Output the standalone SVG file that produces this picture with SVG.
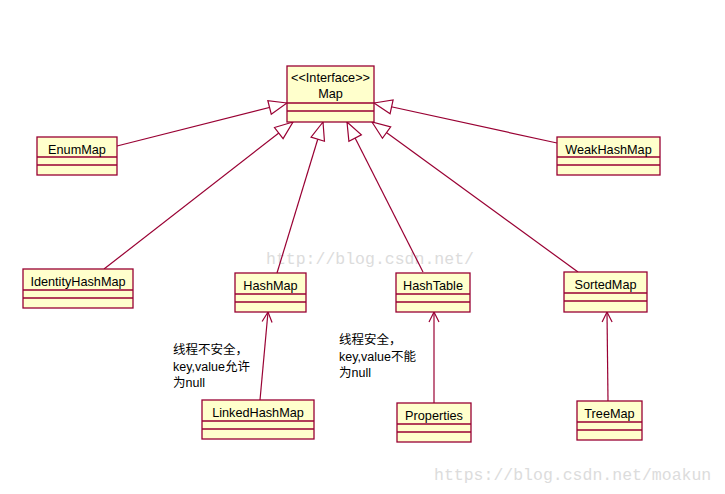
<svg xmlns="http://www.w3.org/2000/svg" width="725" height="494" viewBox="0 0 725 494">
<defs>
<style>
.box{fill:#ffffcc;stroke:#990033;stroke-width:1.3}
.sep{stroke:#990033;stroke-width:1.3;fill:none}
.lbl{font-family:"Liberation Sans",Arial,sans-serif;font-size:12.7px;fill:#000;text-anchor:middle}
.note{font-family:"Liberation Sans","Noto Sans CJK SC",sans-serif;font-size:12.5px;fill:#000}
.con{stroke:#990033;stroke-width:1.2;fill:none}
.wm{font-family:"Liberation Mono","DejaVu Sans Mono",monospace;font-size:16.5px;fill:#dcdcdc}
</style>
<marker id="tri" markerUnits="userSpaceOnUse" markerWidth="22" markerHeight="18" viewBox="-20 -9 22 18" refX="0" refY="0" orient="auto">
<path d="M0,0 L-18,-7 L-18,7 Z" fill="#fff" stroke="#990033" stroke-width="1.2"/>
</marker>
<marker id="open" markerUnits="userSpaceOnUse" markerWidth="14" markerHeight="14" viewBox="-12 -7 14 14" refX="0" refY="0" orient="auto">
<path d="M-10,-5 L0,0 L-10,5" fill="none" stroke="#990033" stroke-width="1.2"/>
</marker>
</defs>
<rect width="725" height="494" fill="#fff"/>
<text class="wm" x="266" y="264">http://blog.csdn.net/</text>
<text class="wm" x="434" y="480">https://blog.csdn.net/moakun</text>
<g id="connectors">
<line class="con" x1="117" y1="146" x2="287" y2="103" marker-end="url(#tri)"/>
<line class="con" x1="557" y1="143" x2="374" y2="103" marker-end="url(#tri)"/>
<line class="con" x1="104" y1="269" x2="293" y2="122" marker-end="url(#tri)"/>
<line class="con" x1="277" y1="273" x2="323" y2="122" marker-end="url(#tri)"/>
<line class="con" x1="423" y1="272" x2="347" y2="122" marker-end="url(#tri)"/>
<line class="con" x1="578" y1="272" x2="372" y2="122" marker-end="url(#tri)"/>
<line class="con" x1="260" y1="400" x2="268" y2="312" marker-end="url(#open)"/>
<line class="con" x1="434" y1="403" x2="434" y2="312" marker-end="url(#open)"/>
<line class="con" x1="608" y1="401" x2="607" y2="312" marker-end="url(#open)"/>
</g>
<g id="Map">
<rect class="box" x="287" y="66" width="87" height="56"/>
<path class="sep" d="M287,103 H374 M287,111 H374"/>
<text class="lbl" x="330.5" y="82">&lt;&lt;Interface&gt;&gt;</text>
<text class="lbl" x="330.5" y="98">Map</text>
</g>
<g id="EnumMap">
<rect class="box" x="37" y="137" width="80" height="38"/>
<path class="sep" d="M37,157 H117 M37,165 H117"/>
<text class="lbl" x="77" y="154">EnumMap</text>
</g>
<g id="WeakHashMap">
<rect class="box" x="557" y="137" width="103" height="38"/>
<path class="sep" d="M557,157 H660 M557,165 H660"/>
<text class="lbl" x="608.5" y="154">WeakHashMap</text>
</g>
<g id="IdentityHashMap">
<rect class="box" x="23" y="269" width="110" height="39"/>
<path class="sep" d="M23,290 H133 M23,298 H133"/>
<text class="lbl" x="78" y="286">IdentityHashMap</text>
</g>
<g id="HashMap">
<rect class="box" x="235" y="273" width="71" height="39"/>
<path class="sep" d="M235,294 H306 M235,302 H306"/>
<text class="lbl" x="270.5" y="290">HashMap</text>
</g>
<g id="HashTable">
<rect class="box" x="396" y="273" width="74" height="39"/>
<path class="sep" d="M396,294 H470 M396,302 H470"/>
<text class="lbl" x="433" y="290">HashTable</text>
</g>
<g id="SortedMap">
<rect class="box" x="564" y="272" width="83" height="40"/>
<path class="sep" d="M564,293 H647 M564,301 H647"/>
<text class="lbl" x="605.5" y="289">SortedMap</text>
</g>
<g id="LinkedHashMap">
<rect class="box" x="202" y="400" width="112" height="39"/>
<path class="sep" d="M202,421 H314 M202,429 H314"/>
<text class="lbl" x="258" y="417">LinkedHashMap</text>
</g>
<g id="Properties">
<rect class="box" x="397" y="403" width="74" height="39"/>
<path class="sep" d="M397,424 H471 M397,432 H471"/>
<text class="lbl" x="434" y="420">Properties</text>
</g>
<g id="TreeMap">
<rect class="box" x="577" y="401" width="65" height="39"/>
<path class="sep" d="M577,422 H642 M577,430 H642"/>
<text class="lbl" x="609.5" y="418">TreeMap</text>
</g>
<g id="note1">
<text class="note" x="173" y="354">线程不安全，</text>
<text class="note" x="173" y="371">key,value允许</text>
<text class="note" x="173" y="387">为null</text>
</g>
<g id="note2">
<text class="note" x="339" y="344">线程安全，</text>
<text class="note" x="339" y="361">key,value不能</text>
<text class="note" x="339" y="377">为null</text>
</g>
</svg>
